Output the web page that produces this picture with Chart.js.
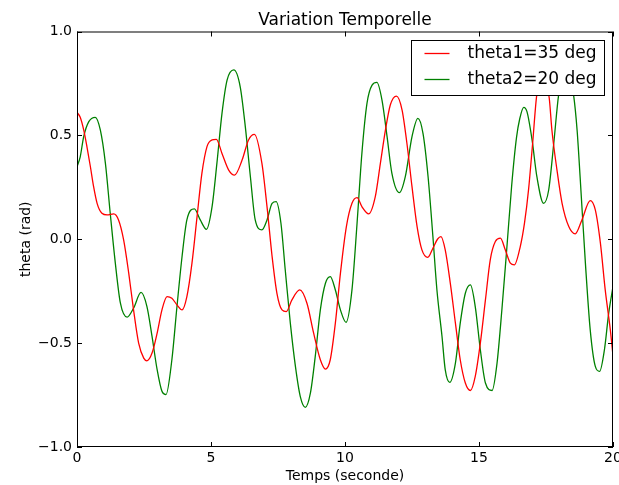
<!DOCTYPE html>
<html>
<head>
<meta charset="utf-8">
<script src="https://cdn.jsdelivr.net/npm/chart.js@4/dist/chart.umd.min.js"></script>
<style>
  html, body { margin: 0; padding: 0; background: #fff; }
</style>
</head>
<body>
<canvas id="myChart" width="619" height="485"></canvas>
<script>
// values
var timeRed = [0, 0.12, 0.25, 0.37, 0.5, 0.62, 0.75, 0.93, 1.12, 1.37, 1.55, 1.74, 1.93, 2.11, 2.3, 2.49, 2.61, 2.8, 2.99, 3.17,
  3.36, 3.54, 3.73, 3.92, 4.1, 4.29, 4.48, 4.66, 4.85, 5.04, 5.2, 5.41, 5.66, 5.88, 6.16, 6.4, 6.62, 6.9, 7.09, 7.28,
  7.46, 7.65, 7.81, 8.02, 8.31, 8.58, 8.83, 9.08, 9.27, 9.45, 9.64, 9.83, 10.05, 10.26, 10.45, 10.63, 10.88, 11.13, 11.32, 11.51,
  11.69, 11.92, 12.13, 12.31, 12.5, 12.69, 12.87, 13.09, 13.28, 13.45, 13.58, 13.74, 13.93, 14.12, 14.3, 14.49, 14.68, 14.86, 15.05, 15.24,
  15.42, 15.61, 15.8, 15.98, 16.17, 16.32, 16.54, 16.7, 16.85, 17.0, 17.16, 17.4, 17.62, 17.72, 17.91, 18.1, 18.35, 18.59, 18.84, 19.15,
  19.34, 19.53, 19.71, 19.9, 20];
var theta1 = [0.611, 0.587, 0.526, 0.446, 0.349, 0.253, 0.173, 0.125, 0.117, 0.122, 0.093, -0.003, -0.163, -0.34, -0.5, -0.572, -0.585, -0.548, -0.452, -0.34,
  -0.276, -0.284, -0.316, -0.34, -0.276, -0.115, 0.109, 0.317, 0.446, 0.478, 0.481, 0.413, 0.333, 0.309, 0.381, 0.478, 0.505, 0.365, 0.157, -0.083,
  -0.26, -0.34, -0.348, -0.292, -0.244, -0.308, -0.452, -0.58, -0.625, -0.58, -0.404, -0.163, 0.06, 0.173, 0.2, 0.157, 0.122, 0.205, 0.365, 0.526,
  0.646, 0.689, 0.622, 0.462, 0.253, 0.061, -0.051, -0.087, -0.043, 0.0, 0.013, -0.051, -0.212, -0.404, -0.58, -0.692, -0.728, -0.66, -0.5, -0.292,
  -0.099, -0.011, 0.005, -0.051, -0.115, -0.123, -0.035, 0.08, 0.24, 0.46, 0.70, 0.78, 0.68, 0.526, 0.333, 0.173, 0.061, 0.026, 0.093, 0.186,
  0.141, -0.019, -0.244, -0.436, -0.56];

var timeGreen = [0, 0.12, 0.25, 0.44, 0.68, 0.87, 1.06, 1.24, 1.43, 1.62, 1.87, 2.11, 2.39, 2.61, 2.8, 2.99, 3.17, 3.32, 3.54, 3.73,
  3.92, 4.1, 4.38, 4.6, 4.83, 5.04, 5.22, 5.41, 5.6, 5.85, 6.09, 6.28, 6.47, 6.65, 6.9, 7.09, 7.28, 7.43, 7.61, 7.77,
  7.96, 8.15, 8.33, 8.52, 8.71, 8.89, 9.08, 9.27, 9.45, 9.64, 9.83, 10.04, 10.26, 10.45, 10.63, 10.82, 11.01, 11.19, 11.38, 11.57,
  11.75, 12.03, 12.25, 12.5, 12.72, 12.91, 13.1, 13.28, 13.43, 13.62, 13.74, 13.91, 14.12, 14.3, 14.49, 14.68, 14.86, 15.05, 15.24, 15.49,
  15.67, 15.86, 16.04, 16.22, 16.4, 16.52, 16.67, 16.79, 16.98, 17.16, 17.41, 17.6, 17.79, 17.97, 18.25, 18.53, 18.66, 18.78, 18.97, 19.15,
  19.34, 19.5, 19.68, 19.84, 20];
var theta2 = [0.349, 0.397, 0.494, 0.566, 0.587, 0.526, 0.365, 0.125, -0.115, -0.308, -0.375, -0.332, -0.256, -0.324, -0.468, -0.628, -0.732, -0.748, -0.58, -0.324,
  -0.083, 0.093, 0.146, 0.093, 0.048, 0.157, 0.365, 0.606, 0.766, 0.815, 0.734, 0.542, 0.301, 0.093, 0.045, 0.093, 0.173, 0.181, 0.077, -0.147,
  -0.404, -0.612, -0.756, -0.809, -0.74, -0.564, -0.34, -0.212, -0.18, -0.244, -0.34, -0.4, -0.244, 0.077, 0.413, 0.654, 0.742, 0.755, 0.67, 0.494,
  0.317, 0.224, 0.301, 0.494, 0.582, 0.51, 0.301, 0.013, -0.244, -0.468, -0.628, -0.689, -0.596, -0.404, -0.26, -0.22, -0.324, -0.532, -0.692, -0.728,
  -0.6, -0.33, -0.04, 0.26, 0.49, 0.58, 0.635, 0.614, 0.478, 0.301, 0.173, 0.237, 0.462, 0.694, 0.86, 0.694, 0.526, 0.285, -0.115, -0.436,
  -0.612, -0.636, -0.532, -0.356, -0.228];

var xTicks = [0, 5, 10, 15, 20];
var yTicks = [-1.0, -0.5, 0.0, 0.5, 1.0];

var FONT = '"DejaVu Sans", "Liberation Sans", sans-serif';

function pairs(xs, ys) {
  return xs.map(function (x, i) { return { x: x, y: ys[i] }; });
}

// matplotlib look: closed frame, inward ticks, boxed legend, title over the axes
var mplPlugin = {
  id: 'mplLook',
  afterDatasetsDraw: function (chart) {
    var ctx = chart.ctx;
    var a = chart.chartArea;
    var sx = chart.scales.x, sy = chart.scales.y;
    ctx.save();
    ctx.strokeStyle = '#000';
    ctx.lineWidth = 1;
    ctx.strokeRect(a.left + 0.5, a.top + 0.5, a.right - a.left - 1, a.bottom - a.top - 1);

    ctx.beginPath();
    xTicks.forEach(function (v) {
      var px = Math.round(sx.getPixelForValue(v)) + 0.5;
      ctx.moveTo(px, a.bottom); ctx.lineTo(px, a.bottom - 5);
      ctx.moveTo(px, a.top); ctx.lineTo(px, a.top + 5);
    });
    yTicks.forEach(function (v) {
      var py = Math.round(sy.getPixelForValue(v)) + 0.5;
      ctx.moveTo(a.left, py); ctx.lineTo(a.left + 5, py);
      ctx.moveTo(a.right, py); ctx.lineTo(a.right - 5, py);
    });
    ctx.stroke();

    // title
    ctx.fillStyle = '#000';
    ctx.font = '17px ' + FONT;
    ctx.textAlign = 'center';
    ctx.textBaseline = 'middle';
    ctx.fillText('Variation Temporelle', (a.left + a.right) / 2, 21);

    // legend
    var bw = 193, bh = 55;
    var bx = Math.round(a.right - 9 - bw) + 0.5, by = Math.round(a.top + 8) + 0.5;
    ctx.fillStyle = '#fff';
    ctx.fillRect(bx, by, bw, bh);
    ctx.strokeStyle = '#000';
    ctx.strokeRect(bx, by, bw, bh);
    ctx.textAlign = 'left';
    chart.data.datasets.forEach(function (ds, i) {
      var ly = by + 13 + i * 26;
      ctx.strokeStyle = ds.borderColor;
      ctx.lineWidth = 1.3;
      ctx.beginPath();
      ctx.moveTo(bx + 13, ly); ctx.lineTo(bx + 38, ly);
      ctx.stroke();
      ctx.fillStyle = '#000';
      ctx.fillText(ds.label, bx + 56, ly);
    });
    ctx.restore();
  }
};

function makeChart() {
  var ctx = document.getElementById('myChart').getContext('2d');
  var myChart = new Chart(ctx, {
    type: 'line',
    data: {
      datasets: [{
        label: 'theta1=35 deg',
        data: pairs(timeRed, theta1),
        borderColor: '#ff0000',
        borderWidth: 1.3,
        pointRadius: 0,
        cubicInterpolationMode: 'monotone',
        fill: false
      }, {
        label: 'theta2=20 deg',
        data: pairs(timeGreen, theta2),
        borderColor: '#008000',
        borderWidth: 1.3,
        pointRadius: 0,
        cubicInterpolationMode: 'monotone',
        fill: false
      }]
    },
    options: {
      responsive: false,
      animation: false,
      layout: { padding: { top: 31.5, right: 6, left: 0, bottom: 0 } },
      plugins: {
        legend: { display: false },
        tooltip: { enabled: false },
        title: { display: false }
      },
      scales: {
        x: {
          type: 'linear',
          min: 0,
          max: 20,
          grid: { display: false, drawTicks: false },
          border: { display: false },
          afterBuildTicks: function (s) { s.ticks = xTicks.map(function (v) { return { value: v }; }); },
          afterFit: function (s) { s.height = 38; s.paddingLeft = 0; s.paddingRight = 0; },
          ticks: {
            color: '#000',
            font: { family: FONT, size: 14 },
            padding: 3,
            maxRotation: 0,
            callback: function (v) { return String(v); }
          },
          title: {
            display: true,
            text: 'Temps (seconde)',
            color: '#000',
            font: { family: FONT, size: 14 },
            padding: { top: 0, bottom: 0 }
          }
        },
        y: {
          min: -1,
          max: 1,
          grid: { display: false, drawTicks: false },
          border: { display: false },
          afterBuildTicks: function (s) { s.ticks = yTicks.map(function (v) { return { value: v }; }); },
          afterFit: function (s) { s.width = 77; s.paddingTop = 0; s.paddingBottom = 0; },
          ticks: {
            color: '#000',
            font: { family: FONT, size: 14 },
            padding: 5,
            callback: function (v) { return v.toFixed(1).replace('-', '\u2212'); }
          },
          title: {
            display: true,
            text: 'theta (rad)',
            color: '#000',
            font: { family: FONT, size: 14 },
            padding: { top: 18, bottom: 0 }
          }
        }
      }
    },
    plugins: [mplPlugin]
  });
}

makeChart();
</script>
</body>
</html>
